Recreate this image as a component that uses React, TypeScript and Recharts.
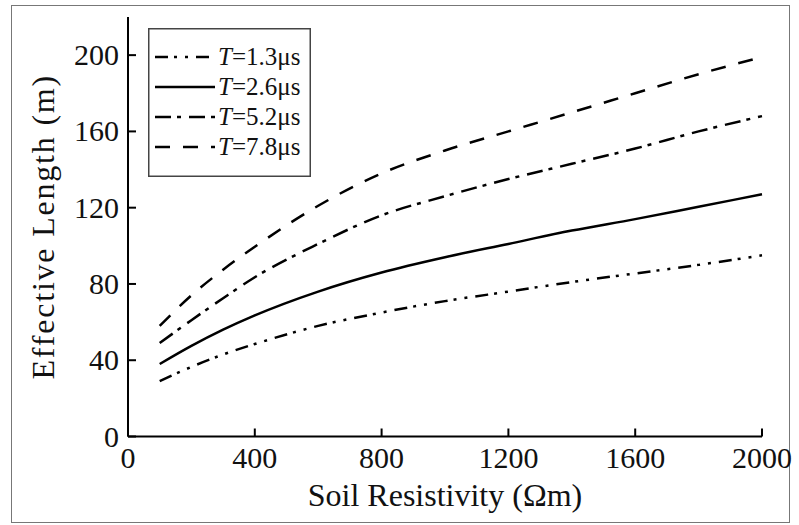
import React from 'react';
import { LineChart, Line, XAxis, YAxis, Legend } from 'recharts';

const rho = [100, 200, 300, 400, 600, 800, 1000, 1200, 1400, 1600, 1800, 2000];
const t13 = [29, 36.5, 43, 48.5, 58, 65, 71, 76, 81, 85.5, 90, 95];
const t26 = [38, 47.5, 56, 63.5, 76, 86, 94, 101, 108, 114, 120.5, 127];
const t52 = [49, 61, 72.5, 83.5, 101, 116, 126, 135, 143, 151, 160, 168];
const t78 = [58, 74, 87.5, 99.5, 121, 138, 150, 160, 170, 180, 190, 199];

const xTicks = [0, 400, 800, 1200, 1600, 2000];
const yTicks = [0, 40, 80, 120, 160, 200];

const series = [
  { key: 't13', label: '1.3μs', dash: '13 6 3 8 3 8' },
  { key: 't26', label: '2.6μs', dash: undefined as string | undefined },
  { key: 't52', label: '5.2μs', dash: '16 6 4 8' },
  { key: 't78', label: '7.8μs', dash: '15 13' },
];

const data = rho.map((r, i) => ({ rho: r, t13: t13[i], t26: t26[i], t52: t52[i], t78: t78[i] }));

const FONT = '"Liberation Serif", "Times New Roman", serif';
const TICK_LEN = 8;

const BottomTick = (props: any) => {
  const { x, y, payload } = props;
  return (
    <g>
      <line x1={x} x2={x} y1={y} y2={y - TICK_LEN} stroke="#000" strokeWidth={2} />
      <text x={x} y={y + 31} textAnchor="middle" fontFamily={FONT} fontSize={30} fill="#111">
        {payload.value}
      </text>
    </g>
  );
};

const TopTick = (props: any) => {
  const { x, y } = props;
  return <line x1={x} x2={x} y1={y} y2={y + TICK_LEN} stroke="#000" strokeWidth={2} />;
};

const LeftTick = (props: any) => {
  const { x, y, payload } = props;
  return (
    <g>
      <line x1={x} x2={x + TICK_LEN} y1={y} y2={y} stroke="#000" strokeWidth={2} />
      <text x={x - 9} y={y + 10} textAnchor="end" fontFamily={FONT} fontSize={30} fill="#111">
        {payload.value}
      </text>
    </g>
  );
};

const RightTick = (props: any) => {
  const { x, y } = props;
  return <line x1={x} x2={x - TICK_LEN} y1={y} y2={y} stroke="#000" strokeWidth={2} />;
};

const renderLegend = () => {
  const rowY = [29, 59, 89, 119];
  return (
    <svg width={163} height={149} style={{ display: 'block' }}>
      <rect x={0.75} y={0.75} width={161.5} height={147.5} fill="#fff" stroke="#444" strokeWidth={1.5} />
      {series.map((s, i) => (
        <g key={s.key}>
          <line x1={7} x2={67} y1={rowY[i]} y2={rowY[i]} stroke="#000" strokeWidth={2.5} strokeDasharray={s.dash} />
          <text x={70} y={rowY[i] + 8} fontFamily={FONT} fontSize={25} fill="#111">
            <tspan fontStyle="italic">T</tspan>={s.label}
          </text>
        </g>
      ))}
    </svg>
  );
};

export default function App() {
  return (
    <div style={{ position: 'absolute', left: 0, top: 0, width: 799, height: 525, background: '#fff' }}>
      <div
        style={{
          position: 'absolute',
          left: 11,
          top: 5,
          width: 779,
          height: 518,
          border: '1.5px solid #777',
          boxSizing: 'border-box',
        }}
      />
      <LineChart
        width={799}
        height={525}
        data={data}
        margin={{ top: 17, right: 37, bottom: 28.5, left: 0 }}
        style={{ position: 'absolute', left: 0, top: 0 }}
      >
        <XAxis
          xAxisId="bottom"
          dataKey="rho"
          type="number"
          domain={[0, 2000]}
          ticks={xTicks}
          height={60}
          tickSize={0}
          tickMargin={0}
          tickLine={false}
          axisLine={{ stroke: '#000', strokeWidth: 2 }}
          tick={<BottomTick />}
          label={{ value: 'Soil Resistivity (Ωm)', position: 'insideBottom', offset: -9.5, fontFamily: FONT, fontSize: 32, fill: '#111' }}
        />
        <XAxis
          xAxisId="top"
          orientation="top"
          dataKey="rho"
          type="number"
          domain={[0, 2000]}
          ticks={xTicks}
          height={0}
          tickSize={0}
          tickMargin={0}
          tickLine={false}
          axisLine={{ stroke: '#000', strokeWidth: 2 }}
          tick={<TopTick />}
        />
        <YAxis
          yAxisId="left"
          type="number"
          domain={[0, 220]}
          ticks={yTicks}
          width={128}
          tickSize={0}
          tickMargin={0}
          tickLine={false}
          axisLine={{ stroke: '#000', strokeWidth: 2 }}
          tick={<LeftTick />}
          label={{ value: 'Effective Length (m)', angle: -90, position: 'insideLeft', offset: 43, style: { textAnchor: 'middle', letterSpacing: 1.8 }, fontFamily: FONT, fontSize: 32, fill: '#111' }}
        />
        <YAxis
          yAxisId="right"
          orientation="right"
          type="number"
          domain={[0, 220]}
          ticks={yTicks}
          width={0}
          tickSize={0}
          tickMargin={0}
          tickLine={false}
          axisLine={{ stroke: '#000', strokeWidth: 2 }}
          tick={<RightTick />}
        />
        {series.map((s) => (
          <Line
            key={s.key}
            xAxisId="bottom"
            yAxisId="left"
            type="monotone"
            dataKey={s.key}
            stroke="#000"
            strokeWidth={2.5}
            strokeDasharray={s.dash}
            dot={false}
            activeDot={false}
            isAnimationActive={false}
          />
        ))}
        <Legend
          content={renderLegend}
          layout="vertical"
          align="center"
          verticalAlign="middle"
          wrapperStyle={{ position: 'absolute', left: 148, top: 28, width: 163, height: 149 }}
        />
      </LineChart>
    </div>
  );
}
